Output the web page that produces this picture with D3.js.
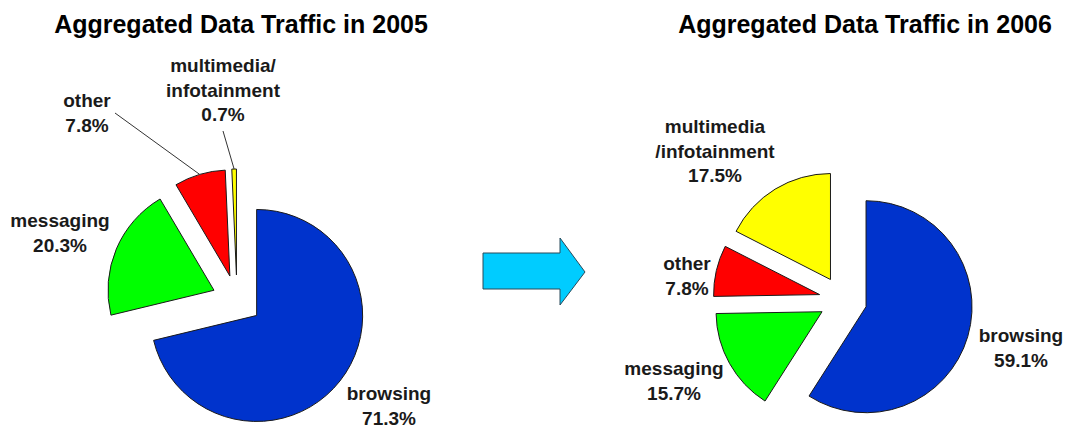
<!DOCTYPE html>
<html>
<head>
<meta charset="utf-8">
<script src="https://cdn.jsdelivr.net/npm/d3@7"></script>
<style>
  html, body { margin: 0; padding: 0; background: #fff; }
  svg { display: block; font-family: "Liberation Sans", Arial, sans-serif; }
</style>
</head>
<body>
<svg id="chart" width="1066" height="428"></svg>
<script>
// Traffic shares (%) per application category, slice order clockwise from 12 o'clock
const categories = ["browsing", "messaging", "other", "multimedia/infotainment"];
const share2005 = [71.3, 20.3, 7.8, 0.7];
const share2006 = [59.1, 15.7, 7.8, 17.5];
const titles = ["Aggregated Data Traffic in 2005", "Aggregated Data Traffic in 2006"];
// Category names as printed beside each pie (line breaks differ per year)
const names2005 = [["browsing"], ["messaging"], ["other"], ["multimedia/", "infotainment"]];
const names2006 = [["browsing"], ["messaging"], ["other"], ["multimedia", "/infotainment"]];

const sliceColors = ["#0033cc", "#00ff00", "#ff0000", "#ffff00"];

const svg = d3.select("#chart");
const R = 106;
const lineH = 24.5;

// Layout of each pie: centre, explosion offset, title and label anchors
const pies = [
  {
    values: share2005, names: names2005, title: titles[0],
    cx: 237, cy: 300, explode: 25, titleX: 241,
    labels: [
      { x: 389, y: 400 },
      { x: 60, y: 227 },
      { x: 87, y: 107, leader: [115, 113] },
      { x: 223, y: 72, leader: [223, 131] }
    ]
  },
  {
    values: share2006, names: names2006, title: titles[1],
    cx: 843, cy: 300, explode: 24, titleX: 865,
    labels: [
      { x: 1021, y: 342 },
      { x: 674, y: 375 },
      { x: 687, y: 270 },
      { x: 715, y: 133 }
    ]
  }
];

const pie = d3.pie().sort(null).value(d => d);
const arc = d3.arc().innerRadius(0).outerRadius(R);

pies.forEach(p => {
  const g = svg.append("g").attr("transform", `translate(${p.cx},${p.cy})`);
  const arcs = pie(p.values);
  const dir = a => [Math.sin(a), -Math.cos(a)];

  g.selectAll("path.slice")
    .data(arcs)
    .join("path")
    .attr("class", "slice")
    .attr("transform", d => {
      const [ux, uy] = dir((d.startAngle + d.endAngle) / 2);
      return `translate(${ux * p.explode},${uy * p.explode})`;
    })
    .attr("d", arc)
    .attr("fill", (d, i) => sliceColors[i])
    .attr("stroke", "#1a1a1a")
    .attr("stroke-width", 1)
    .attr("stroke-linejoin", "round");

  // Leader lines from label to the outer edge of its slice
  arcs.forEach((d, i) => {
    const lab = p.labels[i];
    if (!lab.leader) return;
    const [ux, uy] = dir((d.startAngle + d.endAngle) / 2);
    const r = p.explode + R;
    svg.append("line")
      .attr("x1", lab.leader[0]).attr("y1", lab.leader[1])
      .attr("x2", p.cx + ux * r).attr("y2", p.cy + uy * r)
      .attr("stroke", "#333").attr("stroke-width", 1);
  });

  // Category labels with percentages
  arcs.forEach((d, i) => {
    const lab = p.labels[i];
    const lines = p.names[i].concat([d.data.toFixed(1) + "%"]);
    const t = svg.append("text")
      .attr("text-anchor", "middle")
      .attr("font-size", 19)
      .attr("font-weight", "bold")
      .attr("fill", "#1a1a1a");
    lines.forEach((s, k) => {
      t.append("tspan").attr("x", lab.x).attr("y", lab.y + k * lineH).text(s);
    });
  });

  svg.append("text")
    .attr("x", p.titleX).attr("y", 33)
    .attr("text-anchor", "middle")
    .attr("font-size", 25)
    .attr("font-weight", "bold")
    .attr("fill", "#000")
    .text(p.title);
});

// Block arrow between the two years
const arrow = d3.path();
arrow.moveTo(483, 253);
arrow.lineTo(560, 253);
arrow.lineTo(560, 238);
arrow.lineTo(585, 272);
arrow.lineTo(560, 305);
arrow.lineTo(560, 289);
arrow.lineTo(483, 289);
arrow.closePath();
svg.append("path")
  .attr("d", arrow.toString())
  .attr("fill", "#00ccff")
  .attr("stroke", "#2a4a5a")
  .attr("stroke-width", 1);
</script>
</body>
</html>
